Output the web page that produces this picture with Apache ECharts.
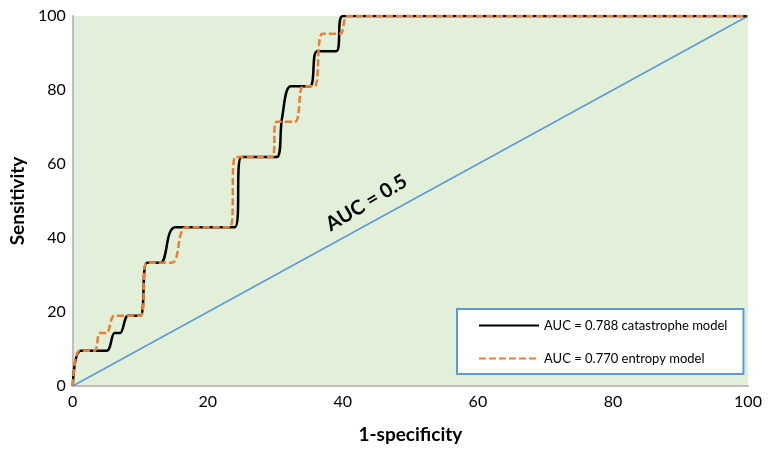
<!DOCTYPE html>
<html><head><meta charset="utf-8">
<script src="https://cdn.jsdelivr.net/npm/echarts@6/dist/echarts.min.js"></script>
<style>html,body{margin:0;padding:0;background:#fff}#c{width:775px;height:449px}</style>
</head><body><div id="c"></div>
<script>
var axisTicks = [0, 20, 40, 60, 80, 100];
var blackX = [0, 1.2, 5, 6.2, 7, 8.2, 10, 11, 13, 15.2, 24, 25, 30.2, 31, 32.3, 35.1, 36.2, 39, 40, 100];
var blackY = [0, 9.5, 9.5, 14.3, 14.3, 19, 19, 33.3, 33.3, 42.9, 42.9, 61.9, 61.9, 72.5, 81, 81, 90.5, 90.5, 100, 100];
var orangeX = [0, 1, 3.2, 4, 5, 6.2, 10, 11, 14.7, 16.8, 23.3, 24.1, 29.5, 30.2, 32.9, 34.1, 35.8, 37, 39.6, 40.8, 100];
var orangeY = [0, 9.5, 9.5, 14.3, 14.3, 19, 19, 33.3, 33.3, 42.9, 42.9, 61.9, 61.9, 71.4, 71.4, 81, 81, 95.2, 95.2, 100, 100];
var diagX = [0, 100];
var diagY = [0, 100];
var names = ['AUC = 0.788 catastrophe model', 'AUC = 0.770 entropy model'];
var refLabel = 'AUC = 0.5';
var refLabelAt = [43.5, 49.5];

function zip(a, b) { return a.map(function (v, i) { return [v, b[i]]; }); }

var chart = echarts.init(document.getElementById('c'), null, {renderer: 'canvas'});
var font = 'Lato, "Open Sans", sans-serif';
var tickFmt = function (v) { return axisTicks.indexOf(v) >= 0 ? String(v) : ''; };
chart.setOption({
  animation: false,
  textStyle: {fontFamily: font},
  grid: {left: 68, right: 27, top: 16, bottom: 62, show: true,
         backgroundColor: '#E2EFD9', borderWidth: 0},
  xAxis: [{
    type: 'value', min: 0, max: 100, interval: 20,
    name: '1-specificity', nameLocation: 'middle', nameGap: 39,
    nameTextStyle: {fontSize: 19, fontWeight: 'bold', color: '#000', fontFamily: font},
    axisLine: {show: true, lineStyle: {color: '#BFBFBF', width: 2}},
    axisTick: {show: false}, splitLine: {show: false},
    axisLabel: {fontSize: 16, color: '#000', margin: 8, fontFamily: font, formatter: tickFmt}
  }, {
    type: 'value', min: 0, max: 100, position: 'top',
    axisLine: {show: true, lineStyle: {color: '#BFBFBF', width: 1.5}},
    axisTick: {show: false}, splitLine: {show: false}, axisLabel: {show: false}
  }],
  yAxis: [{
    type: 'value', min: 0, max: 100, interval: 20,
    name: 'Sensitivity', nameLocation: 'middle', nameGap: 34,
    nameTextStyle: {fontSize: 19, fontWeight: 'bold', color: '#000', fontFamily: font},
    axisLine: {show: false}, axisTick: {show: false}, splitLine: {show: false},
    axisLabel: {fontSize: 16, color: '#000', margin: 7, fontFamily: font, formatter: tickFmt}
  }, {
    type: 'value', min: 0, max: 100, position: 'right',
    axisLine: {show: true, lineStyle: {color: '#BFBFBF', width: 2}},
    axisTick: {show: false}, splitLine: {show: false}, axisLabel: {show: false}
  }],
  legend: {
    orient: 'vertical', left: 457, top: 309,
    data: names,
    itemWidth: 60, itemHeight: 14, itemGap: 20,
    padding: [10, 16, 9, 21],
    backgroundColor: '#fff', borderColor: '#5B9BD5', borderWidth: 2, borderRadius: 0,
    itemStyle: {opacity: 0, borderWidth: 0},
    textStyle: {fontSize: 13, color: '#000', fontFamily: font}
  },
  series: [
    {type: 'line', name: 'diag', data: zip(diagX, diagY), symbol: 'none', silent: true,
     lineStyle: {color: '#5B9BD5', width: 1.5},
     markPoint: {symbol: 'circle', symbolSize: 0, silent: true,
       data: [{coord: refLabelAt, value: refLabel}],
       label: {show: true, position: 'inside', formatter: refLabel, rotate: 31,
         fontSize: 20, fontWeight: 'bold', color: '#000', fontFamily: font}}},
    {type: 'line', name: names[0], data: zip(blackX, blackY), symbol: 'none', smooth: 0.35,
     color: '#000', lineStyle: {color: '#000', width: 2.5}},
    {type: 'line', name: names[1], data: zip(orangeX, orangeY), symbol: 'none', smooth: 0.35,
     color: '#ED7D31', lineStyle: {color: '#ED7D31', width: 2.5, type: [7, 3]}}
  ]
});
</script></body></html>
